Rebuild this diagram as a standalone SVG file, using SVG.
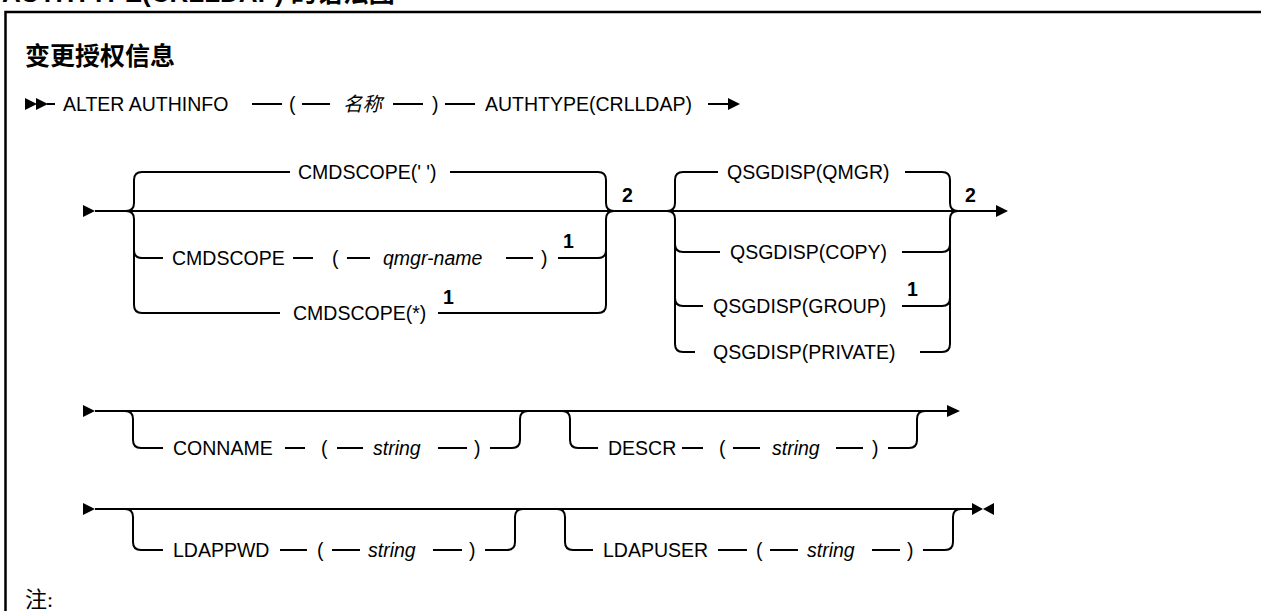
<svg xmlns="http://www.w3.org/2000/svg" width="1261" height="611" viewBox="0 0 1261 611">
<style>
.t{font-family:"Liberation Sans",Arial,"Noto Sans CJK SC",sans-serif;font-size:19.5px;fill:#000}
.v{font-style:italic}
.s{font-weight:bold}
.h{font-family:"Liberation Sans","Noto Sans CJK SC",sans-serif;font-weight:bold;fill:#000}
.c{fill:none;stroke:#000;stroke-width:2}
.a{fill:#000;stroke:none}
</style>
<rect x="5.5" y="12" width="1300" height="700" fill="none" stroke="#000" stroke-width="2.5"/>
<text class="h" x="2" y="2" font-size="26">AUTHTYPE(CRLLDAP) 的语法图</text>
<text class="h" x="25" y="65" font-size="25">变更授权信息</text>

<g id="connectors">
  <!-- row 1 -->
  <polygon class="a" points="25,98 37,104 25,110"/>
  <polygon class="a" points="36,98 48,104 36,110"/>
  <path class="c" d="M47,104 H55 M252,104 H282 M302,104 H330 M393,104 H423 M445,104 H475 M708,104 H730"/>
  <polygon class="a" points="728,98 740,104 728,110"/>
  <!-- row 2 -->
  <polygon class="a" points="83,205 95,211 83,217"/>
  <path class="c" d="M95,211 H997"/>
  <path class="c" d="M126,211 Q134,211 134,203 V180 Q134,172 142,172 H290"/>
  <path class="c" d="M126,211 Q134,211 134,219 V305 Q134,313 142,313 H280"/>
  <path class="c" d="M134,250 Q134,258 142,258 H163"/>
  <path class="c" d="M293,258 H313 M347,258 H370 M506,258 H533"/>
  <path class="c" d="M450,172 H598 Q606,172 606,180 V203 Q606,211 614,211"/>
  <path class="c" d="M438,313 H598 Q606,313 606,305 V219 Q606,211 614,211"/>
  <path class="c" d="M558,258 H598 Q606,258 606,250"/>
  <path class="c" d="M667,211 Q675,211 675,203 V180 Q675,172 683,172 H718"/>
  <path class="c" d="M667,211 Q675,211 675,219 V344 Q675,352 683,352 H695"/>
  <path class="c" d="M675,244 Q675,252 683,252 H720"/>
  <path class="c" d="M675,298 Q675,306 683,306 H703"/>
  <path class="c" d="M905,172 H942 Q950,172 950,180 V203 Q950,211 958,211"/>
  <path class="c" d="M920,352 H942 Q950,352 950,344 V219 Q950,211 958,211"/>
  <path class="c" d="M902,252 H942 Q950,252 950,244"/>
  <path class="c" d="M902,306 H942 Q950,306 950,298"/>
  <polygon class="a" points="996,205 1008,211 996,217"/>
  <!-- row 3 -->
  <polygon class="a" points="83,405 95,411 83,417"/>
  <path class="c" d="M95,411 H949"/>
  <polygon class="a" points="947,405 960,411 947,417"/>
  <path class="c" d="M125,411 Q133,411 133,419 V440 Q133,448 141,448 H163"/>
  <path class="c" d="M285,448 H305 M337,448 H363 M438,448 H467"/>
  <path class="c" d="M490,448 H512 Q520,448 520,440 V419 Q520,411 528,411"/>
  <path class="c" d="M562,411 Q570,411 570,419 V440 Q570,448 578,448 H598"/>
  <path class="c" d="M682,448 H703 M733,448 H760 M836,448 H863"/>
  <path class="c" d="M888,448 H909 Q917,448 917,440 V419 Q917,411 925,411"/>
  <!-- row 4 -->
  <polygon class="a" points="83,503 95,509 83,515"/>
  <path class="c" d="M95,509 H973"/>
  <polygon class="a" points="972,503 983,509 972,515"/>
  <polygon class="a" points="994,503 983,509 994,515"/>
  <path class="c" d="M125,509 Q133,509 133,517 V542 Q133,550 141,550 H163"/>
  <path class="c" d="M280,550 H307 M332,550 H360 M433,550 H462"/>
  <path class="c" d="M485,550 H507 Q515,550 515,542 V517 Q515,509 523,509"/>
  <path class="c" d="M557,509 Q565,509 565,517 V542 Q565,550 573,550 H593"/>
  <path class="c" d="M718,550 H747 M770,550 H798 M872,550 H900"/>
  <path class="c" d="M923,550 H945 Q953,550 953,542 V517 Q953,509 961,509"/>
</g>

<g id="alter-authinfo"><text class="t" x="63" y="111">ALTER AUTHINFO</text></g>
<g id="name-param">
  <text class="t" x="289" y="111">(</text>
  <text class="t v" x="343" y="111" font-size="21">名称</text>
  <text class="t" x="432" y="111">)</text>
</g>
<g id="authtype"><text class="t" x="485" y="111">AUTHTYPE(CRLLDAP)</text></g>

<g id="cmdscope-blank"><text class="t" x="298" y="179">CMDSCOPE(' ')</text></g>
<g id="cmdscope-qmgr">
  <text class="t" x="172" y="265">CMDSCOPE</text>
  <text class="t" x="332" y="265">(</text>
  <text class="t v" x="383" y="265">qmgr-name</text>
  <text class="t" x="541" y="265">)</text>
  <text class="t s" x="563" y="248">1</text>
</g>
<g id="cmdscope-star">
  <text class="t" x="293" y="320">CMDSCOPE(*)</text>
  <text class="t s" x="443" y="304">1</text>
</g>
<g id="cmdscope-note"><text class="t s" x="622" y="202">2</text></g>

<g id="qsgdisp-qmgr"><text class="t" x="727" y="179">QSGDISP(QMGR)</text></g>
<g id="qsgdisp-copy"><text class="t" x="730" y="259">QSGDISP(COPY)</text></g>
<g id="qsgdisp-group">
  <text class="t" x="713" y="313">QSGDISP(GROUP)</text>
  <text class="t s" x="907" y="296">1</text>
</g>
<g id="qsgdisp-private"><text class="t" x="713" y="359">QSGDISP(PRIVATE)</text></g>
<g id="qsgdisp-note"><text class="t s" x="965" y="202">2</text></g>

<g id="conname">
  <text class="t" x="173" y="455">CONNAME</text>
  <text class="t" x="321" y="455">(</text>
  <text class="t v" x="373" y="455">string</text>
  <text class="t" x="474" y="455">)</text>
</g>
<g id="descr">
  <text class="t" x="608" y="455">DESCR</text>
  <text class="t" x="719" y="455">(</text>
  <text class="t v" x="772" y="455">string</text>
  <text class="t" x="872" y="455">)</text>
</g>

<g id="ldappwd">
  <text class="t" x="173" y="557">LDAPPWD</text>
  <text class="t" x="317" y="557">(</text>
  <text class="t v" x="368" y="557">string</text>
  <text class="t" x="469" y="557">)</text>
</g>
<g id="ldapuser">
  <text class="t" x="603" y="557">LDAPUSER</text>
  <text class="t" x="756" y="557">(</text>
  <text class="t v" x="807" y="557">string</text>
  <text class="t" x="907" y="557">)</text>
</g>

<g id="notes"><text x="25" y="607" font-family="Liberation Serif,'Noto Sans CJK SC',serif" font-size="22" fill="#000">注:</text></g>
</svg>
